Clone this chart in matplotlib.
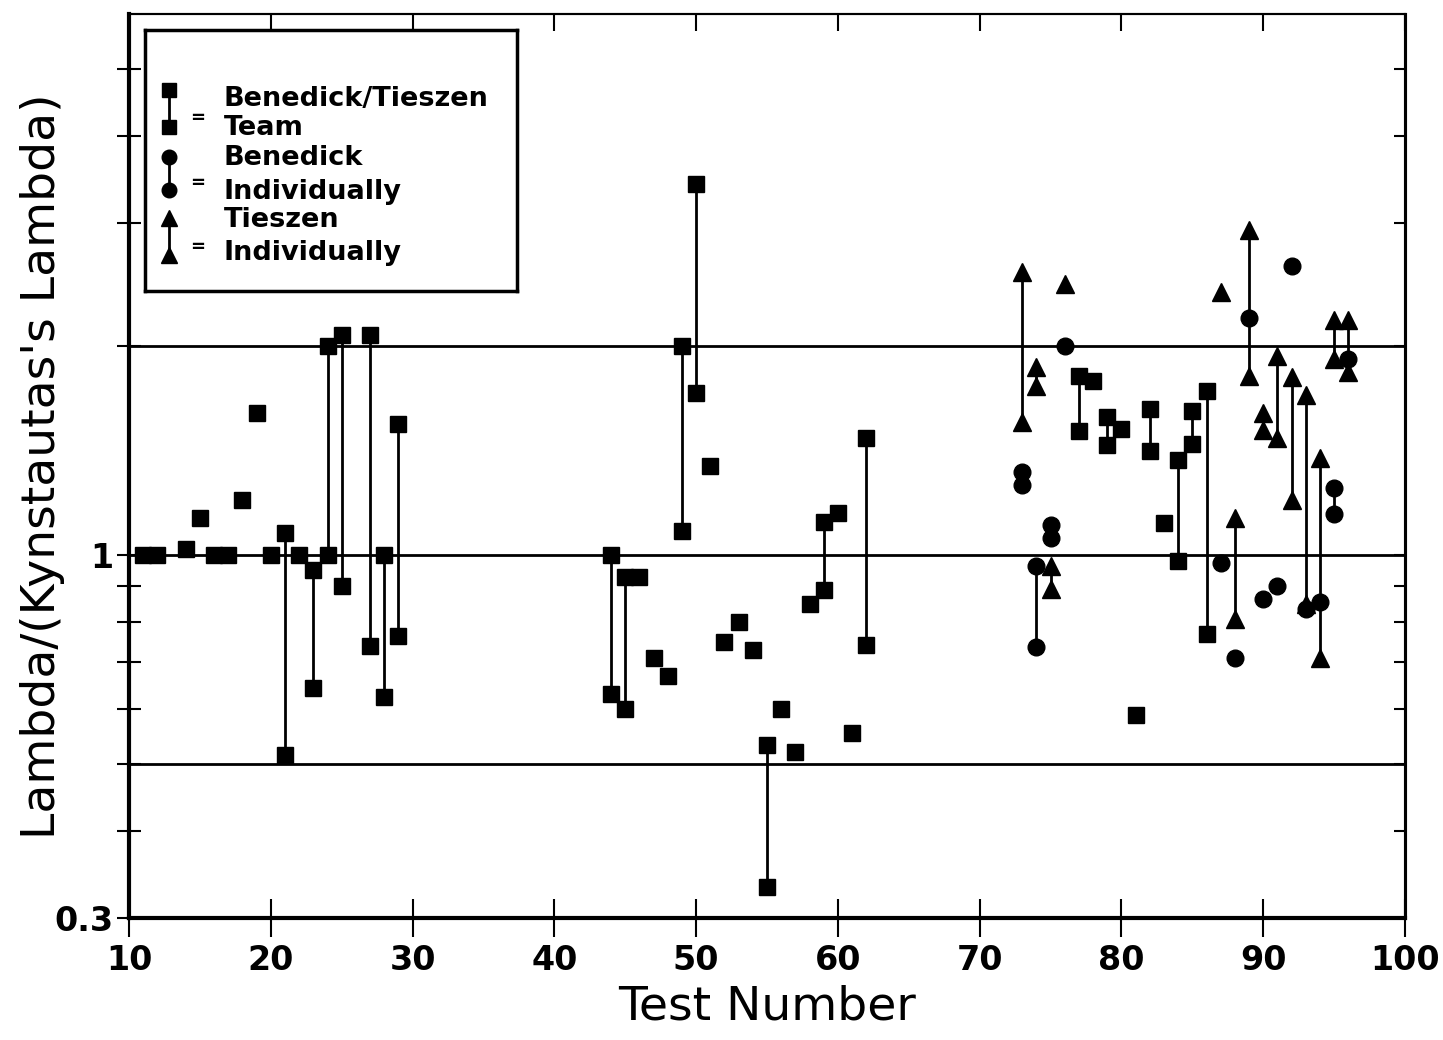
import matplotlib
matplotlib.use("Agg")
import matplotlib.pyplot as plt
from matplotlib.ticker import FixedLocator, NullLocator

# ---------------- data ----------------
# Benedick/Tieszen team: single points
team_single_x = [11, 12, 14, 15, 16, 17, 18, 19, 20, 22, 46, 47, 48, 51, 52, 53, 54,
                 56, 57, 58, 60, 61, 78, 80, 81, 83]
team_single_y = [1.0, 1.0, 1.02, 1.13, 1.0, 1.0, 1.20, 1.60, 1.0, 1.0, 0.93, 0.71, 0.67,
                 1.34, 0.75, 0.80, 0.73, 0.60, 0.52, 0.85, 1.15, 0.553, 1.78, 1.515, 0.588, 1.11]
# team: pairs joined by a vertical line
team_pair_x = [21, 23, 24, 25, 27, 28, 29, 44, 45, 49, 50, 55, 59, 62, 77, 79, 82, 84, 85, 86]
team_pair_hi = [1.075, 0.95, 2.0, 2.07, 2.07, 1.0, 1.54, 1.0, 0.93, 2.0, 3.42, 0.532, 1.115,
                1.47, 1.81, 1.58, 1.62, 1.37, 1.61, 1.72]
team_pair_lo = [0.515, 0.643, 1.0, 0.90, 0.74, 0.625, 0.764, 0.63, 0.60, 1.08, 1.71, 0.333,
                0.89, 0.742, 1.505, 1.44, 1.41, 0.98, 1.445, 0.77]

# Benedick individually
ben_single_x = [76, 87, 88, 89, 90, 91, 92, 93, 94, 96]
ben_single_y = [2.0, 0.974, 0.709, 2.19, 0.863, 0.902, 2.60, 0.835, 0.854, 1.91]
ben_pair_x = [73, 74, 75, 95]
ben_pair_hi = [1.317, 0.963, 1.105, 1.247]
ben_pair_lo = [1.26, 0.736, 1.057, 1.146]

# Tieszen individually
tie_single_x = [76, 87]
tie_single_y = [2.45, 2.39]
tie_pair_x = [73, 74, 75, 88, 89, 90, 91, 92, 93, 94, 95, 96]
tie_pair_hi = [2.55, 1.86, 0.963, 1.13, 2.93, 1.60, 1.93, 1.80, 1.70, 1.376, 2.18, 2.18]
tie_pair_lo = [1.55, 1.75, 0.892, 0.808, 1.81, 1.51, 1.47, 1.20, 0.85, 0.709, 1.91, 1.83]

ref_lines = [0.5, 1.0, 2.0]
x_ticks = [10, 20, 30, 40, 50, 60, 70, 80, 90, 100]
y_ticks = [0.3, 0.4, 0.5, 0.6, 0.7, 0.8, 0.9, 1.0, 2.0, 3.0, 4.0, 5.0]
y_tick_labels = ["0.3", "", "", "", "", "", "", "1", "", "", "", ""]

legend_items = [("s", "Benedick/Tieszen", "Team"),
                ("o", "Benedick", "Individually"),
                ("^", "Tieszen", "Individually")]

# ---------------- figure ----------------
plt.rcParams['font.family'] = ['DejaVu Sans']
fig = plt.figure(figsize=(14.43, 10.4), dpi=100)
ax = fig.add_axes([0.0894, 0.1173, 0.8843, 0.8692])

ax.set_yscale("log")
ax.set_xlim(10, 100)
ax.set_ylim(0.3, 6.0)

for yv in ref_lines:
    ax.axhline(yv, color="black", lw=2.0, zorder=1)

ms = {"s": 11.5, "o": 12, "^": 12.5}

def draw(px, hi, lo, sx, sy, m):
    ax.vlines(px, lo, hi, color="black", lw=2.0, zorder=2)
    ax.plot(px, hi, m, color="black", ms=ms[m], ls="none", zorder=3)
    ax.plot(px, lo, m, color="black", ms=ms[m], ls="none", zorder=3)
    ax.plot(sx, sy, m, color="black", ms=ms[m], ls="none", zorder=3)

draw(team_pair_x, team_pair_hi, team_pair_lo, team_single_x, team_single_y, "s")
draw(ben_pair_x, ben_pair_hi, ben_pair_lo, ben_single_x, ben_single_y, "o")
draw(tie_pair_x, tie_pair_hi, tie_pair_lo, tie_single_x, tie_single_y, "^")

# ticks
ax.xaxis.set_major_locator(FixedLocator(x_ticks))
ax.xaxis.set_minor_locator(NullLocator())
ax.set_xticklabels([str(v) for v in x_ticks])
ax.yaxis.set_major_locator(FixedLocator(y_ticks))
ax.yaxis.set_minor_locator(NullLocator())
ax.set_yticklabels(y_tick_labels)
ax.tick_params(axis="x", which="major", direction="inout", length=27, width=1.5,
               top=False, pad=5, labelsize=24)
ax.tick_params(axis="y", which="major", direction="inout", length=17, width=1.5,
               right=False, pad=3, labelsize=24)
for lab in ax.get_xticklabels() + ax.get_yticklabels():
    lab.set_fontweight("bold")

secx = ax.secondary_xaxis("top")
secx.xaxis.set_major_locator(FixedLocator(x_ticks))
secx.tick_params(direction="in", length=12, width=1.5, labeltop=False)
secx.spines["top"].set_linewidth(1.5)
secy = ax.secondary_yaxis("right")
secy.yaxis.set_major_locator(FixedLocator(y_ticks))
secy.yaxis.set_minor_locator(NullLocator())
secy.tick_params(which="both", direction="in", length=8, width=1.5, labelright=False)
secy.spines["right"].set_linewidth(2.2)

ax.spines["left"].set_linewidth(3.0)
ax.spines["bottom"].set_linewidth(3.0)
ax.spines["right"].set_linewidth(2.2)
ax.spines["top"].set_linewidth(1.5)

ax.set_xlabel("Test Number", fontsize=34)
ax.xaxis.set_label_coords(0.5, -0.074)
ax.set_ylabel("Lambda/(Kynstautas's Lambda)", fontsize=34)
ax.yaxis.set_label_coords(-0.050, 0.5)

# ---------------- legend box ----------------
lg = ax.inset_axes([0.0125, 0.6936, 0.2916, 0.2887])
lg.set_xlim(0, 1)
lg.set_ylim(0, 1)
lg.set_xticks([])
lg.set_yticks([])
for s in lg.spines.values():
    s.set_linewidth(2.5)
lg.set_zorder(5)
rows = [(0.770, 0.628, 0.663, 0.736, 0.625),
        (0.513, 0.387, 0.414, 0.510, 0.379),
        (0.280, 0.138, 0.169, 0.272, 0.146)]
for (m, t1, t2), (ya, yb, ye, yt1, yt2) in zip(legend_items, rows):
    lg.plot([0.0645, 0.0645], [ya, yb], color="black", lw=2.0)
    lg.plot([0.0645, 0.0645], [ya, yb], m, color="black", ms=ms[m] - 1.5, ls="none")
    lg.text(0.142, ye, "=", fontsize=13, fontweight="bold", ha="center", va="center")
    lg.text(0.212, yt1, t1, fontsize=19.5, fontweight="bold", ha="left", va="center")
    lg.text(0.212, yt2, t2, fontsize=19.5, fontweight="bold", ha="left", va="center")

fig.savefig("out.png", dpi=100, facecolor="white")
